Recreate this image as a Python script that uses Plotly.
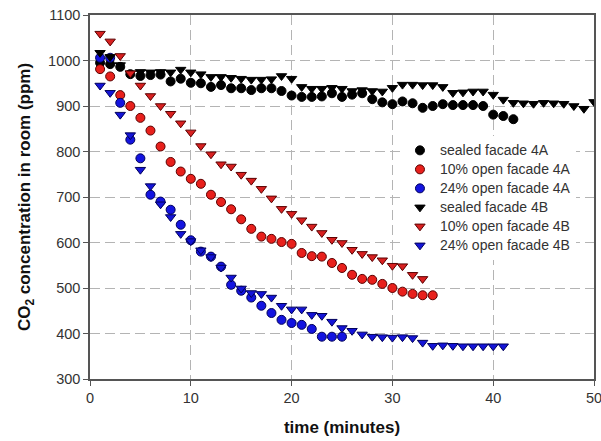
import plotly.graph_objects as go

# time (minutes)
t_sealed_4a = list(range(1, 43))
t_10_4a = list(range(1, 35))
t_24_4a = list(range(1, 26))
t_sealed_4b = list(range(1, 51))
t_10_4b = list(range(1, 34))
t_24_4b = list(range(1, 42))

# CO2 concentration (ppm)
sealed_4a = [995, 992, 986, 970, 966, 968, 969, 954, 960, 951, 950, 942, 946, 939, 939,
             935, 939, 939, 933, 923, 920, 920, 921, 928, 920, 925, 928, 915, 908, 904,
             910, 906, 896, 900, 904, 902, 902, 902, 900, 881, 878, 871]
open10_4a = [981, 965, 924, 900, 874, 846, 811, 777, 756, 740, 729, 705, 689, 673, 651,
             630, 613, 608, 601, 597, 577, 570, 569, 555, 544, 529, 520, 518, 509, 500,
             492, 487, 484, 484]
open24_4a = [1006, 1006, 907, 826, 785, 705, 690, 672, 639, 605, 580, 569, 547, 507, 494,
             479, 461, 445, 430, 423, 419, 410, 393, 393, 393]
sealed_4b = [1017, 1008, 990, 972, 975, 974, 975, 974, 980, 974, 970, 964, 964, 962, 960,
             958, 958, 959, 966, 960, 942, 938, 938, 940, 938, 933, 935, 933, 932, 940,
             947, 947, 946, 946, 942, 929, 930, 932, 932, 925, 914, 907, 906, 905, 907,
             906, 905, 900, 894, 909]
open10_4b = [1059, 1042, 1010, 972, 945, 922, 900, 883, 862, 842, 812, 794, 772, 767, 749,
             736, 718, 697, 674, 663, 649, 635, 621, 606, 599, 584, 575, 568, 561, 549,
             548, 529, 520]
open24_4b = [945, 929, 881, 836, 760, 724, 684, 656, 619, 603, 583, 568, 545, 523, 499,
             489, 487, 479, 461, 453, 453, 441, 439, 426, 412, 406, 398, 393, 392, 391,
             392, 390, 380, 373, 374, 373, 372, 372, 372, 372, 372]

labels = ["sealed facade 4A", "10% open facade 4A", "24% open facade 4A",
          "sealed facade 4B", "10% open facade 4B", "24% open facade 4B"]

series = [
    (t_sealed_4a, sealed_4a, "circle", 9, "#000000", "#000000"),
    (t_10_4a, open10_4a, "circle", 9, "#e8201c", "#5a0000"),
    (t_24_4a, open24_4a, "circle", 9, "#1414e0", "#00005a"),
    (t_sealed_4b, sealed_4b, "triangle-down", 9, "#000000", "#000000"),
    (t_10_4b, open10_4b, "triangle-down", 9, "#d82020", "#5a0000"),
    (t_24_4b, open24_4b, "triangle-down", 9, "#1414d8", "#00005a"),
]

FONT = "Arial, Liberation Sans, sans-serif"

fig = go.Figure()
for (x, y, sym, sz, fill, edge), lab in zip(series, labels):
    fig.add_trace(go.Scatter(
        x=x, y=y, mode="markers",
        name=f"<span style='font-size:14px'>{lab}</span>",
        marker=dict(symbol=sym, size=sz, color=fill, line=dict(color=edge, width=1)),
    ))

axis_common = dict(
    showgrid=True, gridcolor="#b4b4b4", gridwidth=1, griddash="10px,5px",
    showline=True, linecolor="#555555", linewidth=1.5, mirror=True,
    ticks="outside", ticklen=5, tickcolor="#555555", zeroline=False,
    automargin=False, ticklabeloverflow="allow",
    tickfont=dict(family=FONT, size=14.5, color="#333333"),
)

fig.update_xaxes(range=[0, 50], dtick=10, tick0=0,
                 title=dict(text="<b>time (minutes)</b>", font=dict(family=FONT, size=17, color="#111111"), standoff=16),
                 **axis_common)
fig.update_yaxes(range=[300, 1100], dtick=100, tick0=300,
                 title=dict(text="<b>CO<sub>2</sub> concentration in room (ppm)</b>", font=dict(family=FONT, size=17, color="#111111"), standoff=13),
                 **axis_common)

fig.update_layout(
    width=601, height=441,
    margin=dict(l=90, r=7, t=15, b=62),
    paper_bgcolor="white", plot_bgcolor="white",
    font=dict(family=FONT, color="#333333"),
    legend=dict(x=0.615, y=0.668, xanchor="left", yanchor="top",
                bgcolor="white", borderwidth=0,
                font=dict(family=FONT, size=12, color="#333333")),
    showlegend=True,
)

fig.write_html(
    "out.html",
    config={"displayModeBar": False},
    post_script="document.body.style.margin='0';document.body.style.overflow='hidden';",
)
